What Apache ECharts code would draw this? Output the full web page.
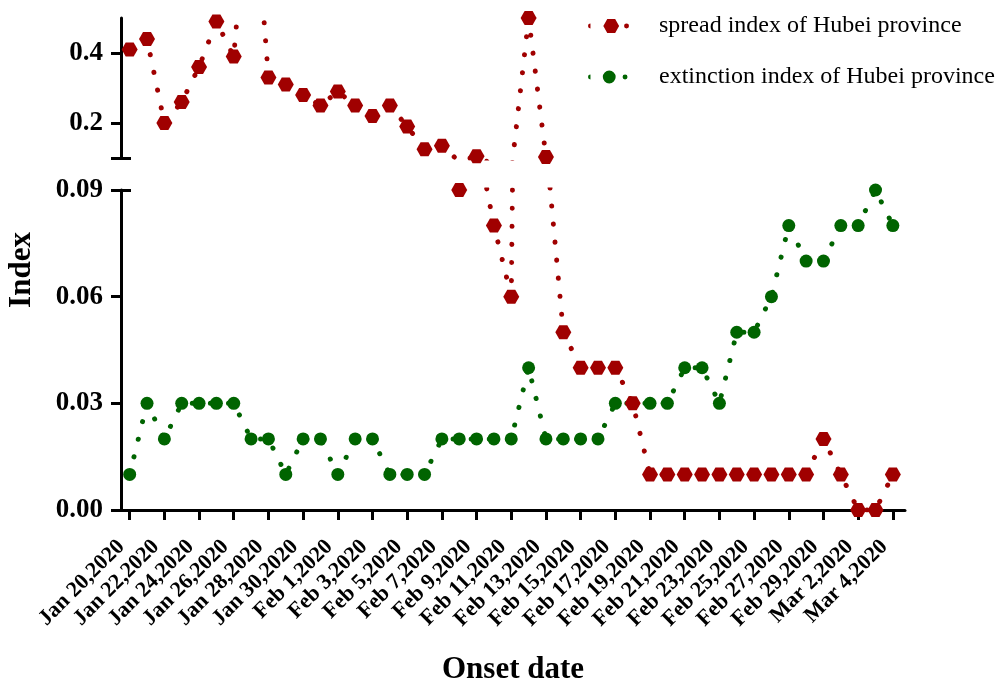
<!DOCTYPE html>
<html><head><meta charset="utf-8">
<script src="https://cdn.jsdelivr.net/npm/echarts@6/dist/echarts.min.js"></script>
<style>html,body{margin:0;padding:0;background:#fff}#c{width:999px;height:686px}</style>
</head><body><div id="c"></div>
<script>
const dateLabels = [
  'Jan 20,2020','Jan 21,2020','Jan 22,2020','Jan 23,2020','Jan 24,2020','Jan 25,2020','Jan 26,2020',
  'Jan 27,2020','Jan 28,2020','Jan 29,2020','Jan 30,2020','Jan 31,2020',
  'Feb 1,2020','Feb 2,2020','Feb 3,2020','Feb 4,2020','Feb 5,2020','Feb 6,2020','Feb 7,2020',
  'Feb 8,2020','Feb 9,2020','Feb 10,2020','Feb 11,2020','Feb 12,2020','Feb 13,2020','Feb 14,2020',
  'Feb 15,2020','Feb 16,2020','Feb 17,2020','Feb 18,2020','Feb 19,2020','Feb 20,2020','Feb 21,2020',
  'Feb 22,2020','Feb 23,2020','Feb 24,2020','Feb 25,2020','Feb 26,2020','Feb 27,2020','Feb 28,2020',
  'Feb 29,2020','Mar 1,2020','Mar 2,2020','Mar 3,2020','Mar 4,2020'
];
const xTickIdx = [0,2,4,6,8,10,12,14,16,18,20,22,24,26,28,30,32,34,36,38,40,42,44];
const spreadIndex = [0.41,0.44,0.20,0.26,0.36,0.49,0.39,0.97,0.33,0.31,0.28,0.25,
  0.29,0.25,0.22,0.25,0.19,0.125,0.135,0.09,0.105,0.08,0.06,0.50,0.103,0.05,
  0.04,0.04,0.04,0.03,0.01,0.01,0.01,0.01,0.01,0.01,0.01,0.01,0.01,0.01,
  0.02,0.01,0,0,0.01];
const extinctionIndex = [0.01,0.03,0.02,0.03,0.03,0.03,0.03,0.02,0.02,0.01,0.02,0.02,
  0.01,0.02,0.02,0.01,0.01,0.01,0.02,0.02,0.02,0.02,0.02,0.04,0.02,0.02,
  0.02,0.02,0.03,0.03,0.03,0.03,0.04,0.04,0.03,0.05,0.05,0.06,0.08,0.07,
  0.07,0.08,0.08,0.09,0.08];
const upperTicks = [0.1,0.2,0.4];
const upperLabels = [0.2,0.4];
const lowerTicks = [0,0.03,0.06,0.09];

const RED = '#a00000', GREEN = '#006400';
const FONT = 'Liberation Serif';
const HEX = 'path://M0,7L4,0L12,0L16,7L12,14L4,14Z';
const ICON_RED = 'path://M2,4.5A2.5,2.5 0 0 0 2,9.5Z M15,7L19,0L27,0L31,7L27,14L19,14Z M36,7A2.5,2.5 0 1 0 41,7A2.5,2.5 0 1 0 36,7Z';
const ICON_GREEN = 'path://M2,4.5A2.5,2.5 0 0 0 2,9.5Z M14.5,7A6.5,6.5 0 1 0 27.5,7A6.5,6.5 0 1 0 14.5,7Z M34.5,7A2.5,2.5 0 1 0 39.5,7A2.5,2.5 0 1 0 34.5,7Z M41,7Z';

const toPts = arr => arr.map((v, i) => [i, v]);
const dotLine = c => ({color: c, width: 5, type: [0.1, 18], cap: 'round'});
const axisBlack = {show: true, onZero: false, lineStyle: {color: '#000', width: 3}};

const chart = echarts.init(document.getElementById('c'), null, {renderer: 'canvas'});
chart.setOption({
  animation: false,
  backgroundColor: '#fff',
  grid: [
    {left: 121, top: 18, width: 784, height: 140},
    {left: 121, top: 190, width: 784, height: 328}
  ],
  xAxis: [
    {gridIndex: 0, type: 'value', min: -0.5, max: 44.7, show: false},
    {gridIndex: 1, type: 'value', min: -0.5, max: 44.7,
     axisLine: axisBlack,
     splitLine: {show: false},
     axisTick: {show: true, length: 10, lineStyle: {color: '#000', width: 3}, customValues: xTickIdx},
     axisLabel: {customValues: xTickIdx, formatter: v => dateLabels[Math.round(v)], rotate: 45,
       margin: 25, padding: [0, 12, 0, 0], fontFamily: FONT, fontWeight: 'bold', fontSize: 22, color: '#000'},
     name: 'Onset date', nameLocation: 'middle', nameGap: 144,
     nameTextStyle: {fontFamily: FONT, fontWeight: 'bold', fontSize: 31, color: '#000'}}
  ],
  yAxis: [
    {gridIndex: 0, type: 'value', min: 0.1, max: 0.5, position: 'left',
     axisLine: axisBlack, splitLine: {show: false},
     axisTick: {show: true, length: 10, lineStyle: {color: '#000', width: 3}, customValues: upperTicks},
     axisLabel: {customValues: upperLabels, formatter: v => v.toFixed(1), margin: 18,
       fontFamily: FONT, fontWeight: 'bold', fontSize: 27, color: '#000'}},
    {gridIndex: 1, type: 'value', min: 0, max: 0.09, position: 'left',
     axisLine: axisBlack, splitLine: {show: false},
     axisTick: {show: true, length: 10, lineStyle: {color: '#000', width: 3}, customValues: lowerTicks},
     axisLabel: {customValues: lowerTicks, formatter: v => v.toFixed(2), margin: 18,
       fontFamily: FONT, fontWeight: 'bold', fontSize: 27, color: '#000'}},
    {gridIndex: 0, type: 'value', min: 0.1, max: 0.5, position: 'left',
     axisLine: {show: false, onZero: false}, splitLine: {show: false}, axisLabel: {show: false},
     axisTick: {show: true, inside: true, length: 10, lineStyle: {color: '#000', width: 3}, customValues: [0.1]}},
    {gridIndex: 1, type: 'value', min: 0, max: 0.09, position: 'left',
     axisLine: {show: false, onZero: false}, splitLine: {show: false}, axisLabel: {show: false},
     axisTick: {show: true, inside: true, length: 10, lineStyle: {color: '#000', width: 3}, customValues: [0.09]}}
  ],
  legend: {
    orient: 'vertical', left: 588, top: 14, padding: 0,
    itemWidth: 41, itemHeight: 14, itemGap: 27,
    textStyle: {fontFamily: FONT, fontSize: 24, color: '#000', lineHeight: 24, padding: [0, 0, 0, 25]},
    data: [
      {name: 'spread index of Hubei province', icon: ICON_RED},
      {name: 'extinction index of Hubei province', icon: ICON_GREEN}
    ]
  },
  graphic: [
    {type: 'text', x: 22, y: 270, rotation: Math.PI / 2,
     style: {text: 'Index', fontFamily: FONT, fontWeight: 'bold', fontSize: 31, fill: '#000',
       align: 'center', verticalAlign: 'middle'}}
  ],
  series: [
    {name: 'extinction index of Hubei province', type: 'line', xAxisIndex: 1, yAxisIndex: 1,
     data: toPts(extinctionIndex), symbol: 'circle', symbolSize: 13,
     itemStyle: {color: GREEN}, lineStyle: dotLine(GREEN), clip: true, z: 2},
    {name: 'spread index of Hubei province', type: 'line', xAxisIndex: 1, yAxisIndex: 1,
     data: toPts(spreadIndex), symbol: HEX, symbolSize: [16, 14],
     itemStyle: {color: RED}, lineStyle: dotLine(RED), clip: true, z: 3},
    {name: 'spread index of Hubei province', type: 'line', xAxisIndex: 0, yAxisIndex: 0,
     data: toPts(spreadIndex), symbol: HEX, symbolSize: [16, 14],
     itemStyle: {color: RED}, lineStyle: dotLine(RED), clip: true, z: 3}
  ]
});
</script></body></html>
